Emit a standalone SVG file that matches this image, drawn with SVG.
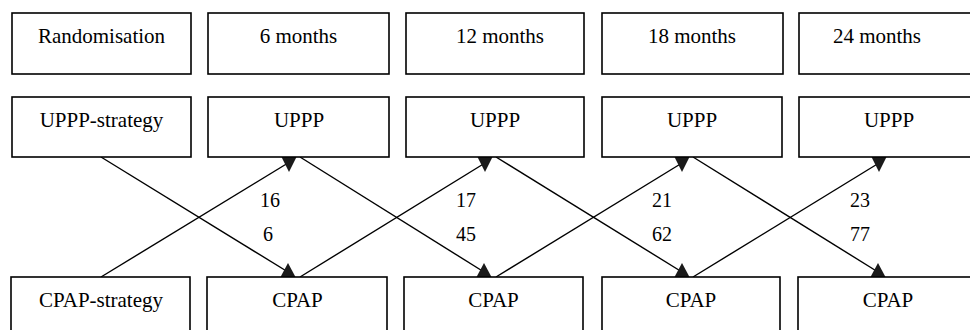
<svg xmlns="http://www.w3.org/2000/svg" width="970" height="330" viewBox="0 0 970 330">
<style>
.box{fill:#fff;stroke:#000;stroke-width:1.6}
.t{font-family:"Liberation Serif","Times New Roman",serif;font-size:21px;fill:#000;text-anchor:middle}
.n{font-family:"Liberation Serif","Times New Roman",serif;font-size:20px;fill:#000}
.ln{stroke:#000;stroke-width:1.4;fill:none}
.ah{fill:#1a1a1a}
</style>
<defs>
<path id="down" d="M-7.5,0 L7.5,0 L0,15 Z"/>
<path id="up" d="M-7.5,0 L7.5,0 L0,-14 Z"/>
</defs>
<rect width="970" height="330" fill="#fff"/>
<g id="connectors">
<line class="ln" x1="101" y1="157" x2="288" y2="272"/>
<line class="ln" x1="101" y1="277" x2="288" y2="163"/>
<line class="ln" x1="300" y1="157" x2="484" y2="272"/>
<line class="ln" x1="300" y1="277" x2="485" y2="163"/>
<line class="ln" x1="496" y1="157" x2="682" y2="272"/>
<line class="ln" x1="496" y1="277" x2="682" y2="163"/>
<line class="ln" x1="693" y1="157" x2="878" y2="272"/>
<line class="ln" x1="693" y1="277" x2="879" y2="163"/>
<use href="#down" class="ah" x="289" y="157"/>
<use href="#down" class="ah" x="485" y="157"/>
<use href="#down" class="ah" x="682" y="157"/>
<use href="#down" class="ah" x="879" y="157"/>
<use href="#up" class="ah" x="288" y="277"/>
<use href="#up" class="ah" x="484" y="277"/>
<use href="#up" class="ah" x="682" y="277"/>
<use href="#up" class="ah" x="878" y="277"/>
<text class="n" x="260" y="207">16</text>
<text class="n" x="263" y="241">6</text>
<text class="n" x="456" y="207">17</text>
<text class="n" x="456" y="241">45</text>
<text class="n" x="652" y="207">21</text>
<text class="n" x="652" y="241">62</text>
<text class="n" x="850" y="207">23</text>
<text class="n" x="850" y="241">77</text>
</g>
<g id="randomisation"><rect class="box" x="12" y="13" width="179" height="61"/><text class="t" x="101.5" y="43">Randomisation</text></g>
<g id="m6"><rect class="box" x="208" y="13" width="181" height="61"/><text class="t" x="298.5" y="43">6 months</text></g>
<g id="m12"><rect class="box" x="406" y="13" width="178" height="61"/><text class="t" x="500" y="43">12 months</text></g>
<g id="m18"><rect class="box" x="602" y="13" width="181" height="61"/><text class="t" x="692" y="43">18 months</text></g>
<g id="m24"><rect class="box" x="799" y="13" width="185" height="61"/><text class="t" x="877" y="43">24 months</text></g>
<g id="uppp-strategy"><rect class="box" x="12" y="97" width="179" height="60"/><text class="t" x="101.5" y="127">UPPP-strategy</text></g>
<g id="uppp6"><rect class="box" x="208" y="97" width="181" height="60"/><text class="t" x="299" y="127">UPPP</text></g>
<g id="uppp12"><rect class="box" x="406" y="97" width="178" height="60"/><text class="t" x="495" y="127">UPPP</text></g>
<g id="uppp18"><rect class="box" x="602" y="97" width="180" height="60"/><text class="t" x="692" y="127">UPPP</text></g>
<g id="uppp24"><rect class="box" x="799" y="97" width="185" height="60"/><text class="t" x="889" y="127">UPPP</text></g>
<g id="cpap-strategy"><rect class="box" x="11" y="277" width="179" height="70"/><text class="t" x="101" y="307">CPAP-strategy</text></g>
<g id="cpap6"><rect class="box" x="207" y="277" width="180" height="70"/><text class="t" x="297.5" y="307">CPAP</text></g>
<g id="cpap12"><rect class="box" x="404" y="277" width="179" height="70"/><text class="t" x="493.5" y="307">CPAP</text></g>
<g id="cpap18"><rect class="box" x="602" y="277" width="178" height="70"/><text class="t" x="691" y="307">CPAP</text></g>
<g id="cpap24"><rect class="box" x="798" y="277" width="186" height="70"/><text class="t" x="888" y="307">CPAP</text></g>
</svg>
